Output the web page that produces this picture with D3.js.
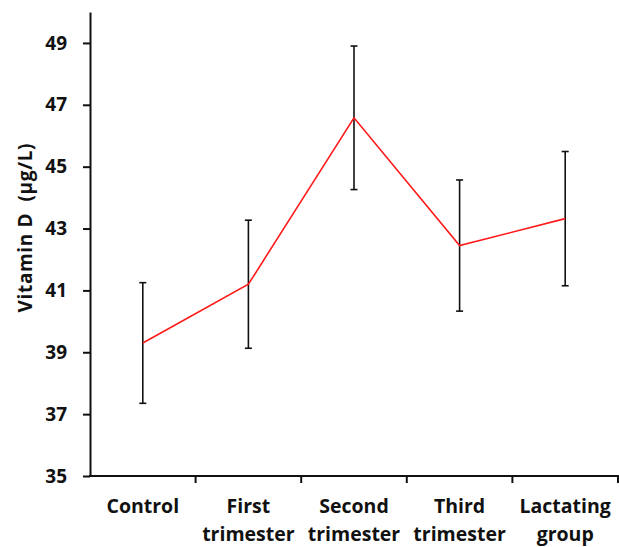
<!DOCTYPE html>
<html lang="en">
<head>
<meta charset="UTF-8">
<title>Vitamin D</title>
<script src="https://d3js.org/d3.v7.min.js"></script>
<style>
    body { margin: 0; background: white; }
    svg text { font-family: 'Open Sans', 'DejaVu Sans', sans-serif; font-weight: bold; fill: #111; }
</style>
</head>
<body>
<svg id="chart" width="619" height="547"></svg>
<script>
    // data
    const groups = [["Control"], ["First", "trimester"], ["Second", "trimester"], ["Third", "trimester"], ["Lactating", "group"]];
    const means = [39.3, 41.2, 46.58, 42.45, 43.32];
    const errs = [1.95, 2.07, 2.32, 2.12, 2.17];
    const yTicks = [35, 37, 39, 41, 43, 45, 47, 49];

    const svg = d3.select("#chart");
    const plotLeft = 90, plotRight = 618, plotTop = 12, plotBottom = 476;

    const x = d3.scaleBand().domain(d3.range(groups.length)).range([plotLeft, plotRight]);
    const y = d3.scaleLinear().domain([35, 50]).range([plotBottom, plotTop]);
    const cx = i => x(i) + x.bandwidth() / 2;

    // y axis
    const yAxis = svg.append("g").attr("transform", `translate(${plotLeft},0)`)
        .call(d3.axisLeft(y).tickValues(yTicks).tickSize(7).tickPadding(16).tickSizeOuter(0));
    yAxis.select(".domain").attr("stroke", "#111").attr("stroke-width", 2);
    yAxis.selectAll(".tick line").attr("stroke", "#111").attr("stroke-width", 2);
    yAxis.selectAll("text").style("font-size", "19px");

    // x axis: ticks between categories
    const xAxis = svg.append("g").attr("transform", `translate(0,${plotBottom})`);
    xAxis.append("line").attr("x1", plotLeft - 1).attr("x2", plotRight + 1)
        .attr("stroke", "#111").attr("stroke-width", 2);
    xAxis.selectAll("line.tk").data(d3.range(1, groups.length + 1)).join("line")
        .attr("class", "tk")
        .attr("x1", i => i < groups.length ? x(i) : plotRight)
        .attr("x2", i => i < groups.length ? x(i) : plotRight)
        .attr("y1", 0).attr("y2", 7)
        .attr("stroke", "#111").attr("stroke-width", 2);
    xAxis.selectAll("text").data(groups).join("text")
        .attr("text-anchor", "middle")
        .style("font-size", "19.5px")
        .each(function(lines, i) {
            d3.select(this).selectAll("tspan").data(lines).join("tspan")
                .attr("x", cx(i))
                .attr("y", (d, j) => 37 + j * 28)
                .text(d => d);
        });

    // y label
    svg.append("text")
        .attr("transform", "translate(32,228) rotate(-90)")
        .attr("text-anchor", "middle")
        .style("font-size", "19px")
        .attr("textLength", 169)
        .attr("lengthAdjust", "spacing")
        .attr("xml:space", "preserve")
        .text("Vitamin D  (µg/L)");

    // error bars
    const eb = svg.append("g").attr("stroke", "#111").attr("stroke-width", 1.6);
    means.forEach((m, i) => {
        eb.append("line").attr("x1", cx(i)).attr("x2", cx(i))
            .attr("y1", y(m + errs[i])).attr("y2", y(m - errs[i]));
        [m + errs[i], m - errs[i]].forEach(v => {
            eb.append("line").attr("x1", cx(i) - 3.5).attr("x2", cx(i) + 3.5)
                .attr("y1", y(v)).attr("y2", y(v));
        });
    });

    // mean line
    svg.append("path").datum(means)
        .attr("fill", "none").attr("stroke", "#ff1a1a").attr("stroke-width", 1.6)
        .attr("d", d3.line().x((d, i) => cx(i)).y(d => y(d)));
</script>
</body>
</html>
